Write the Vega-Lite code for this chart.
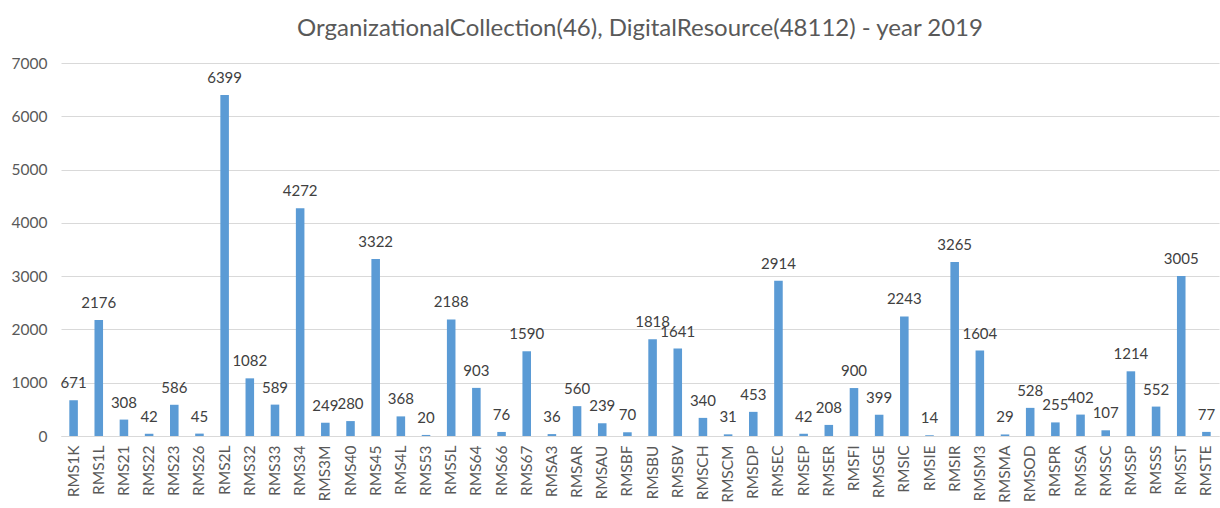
{
  "$schema": "https://vega.github.io/schema/vega-lite/v6.json",
  "width": 1158,
  "height": 373,
  "autosize": "none",
  "padding": {"left": 61, "top": 63, "right": 1, "bottom": 72},
  "background": "white",
  "title": {
    "text": "OrganizationalCollection(46), DigitalResource(48112) - year 2019",
    "font": "Lato",
    "fontSize": 24,
    "fontWeight": "normal",
    "color": "#595959",
    "anchor": "middle",
    "offset": 15
  },
  "config": {
    "view": {"stroke": null},
    "axis": {"labelFont": "Lato", "labelColor": "#595959", "labelFontSize": 15.5}
  },
  "data": {
    "values": [
      {"code": "RMS1K", "count": 671},
      {"code": "RMS1L", "count": 2176},
      {"code": "RMS21", "count": 308},
      {"code": "RMS22", "count": 42},
      {"code": "RMS23", "count": 586},
      {"code": "RMS26", "count": 45},
      {"code": "RMS2L", "count": 6399},
      {"code": "RMS32", "count": 1082},
      {"code": "RMS33", "count": 589},
      {"code": "RMS34", "count": 4272},
      {"code": "RMS3M", "count": 249},
      {"code": "RMS40", "count": 280},
      {"code": "RMS45", "count": 3322},
      {"code": "RMS4L", "count": 368},
      {"code": "RMS53", "count": 20},
      {"code": "RMS5L", "count": 2188},
      {"code": "RMS64", "count": 903},
      {"code": "RMS66", "count": 76},
      {"code": "RMS67", "count": 1590},
      {"code": "RMSA3", "count": 36},
      {"code": "RMSAR", "count": 560},
      {"code": "RMSAU", "count": 239},
      {"code": "RMSBF", "count": 70},
      {"code": "RMSBU", "count": 1818},
      {"code": "RMSBV", "count": 1641},
      {"code": "RMSCH", "count": 340},
      {"code": "RMSCM", "count": 31},
      {"code": "RMSDP", "count": 453},
      {"code": "RMSEC", "count": 2914},
      {"code": "RMSEP", "count": 42},
      {"code": "RMSER", "count": 208},
      {"code": "RMSFI", "count": 900},
      {"code": "RMSGE", "count": 399},
      {"code": "RMSIC", "count": 2243},
      {"code": "RMSIE", "count": 14},
      {"code": "RMSIR", "count": 3265},
      {"code": "RMSM3", "count": 1604},
      {"code": "RMSMA", "count": 29},
      {"code": "RMSOD", "count": 528},
      {"code": "RMSPR", "count": 255},
      {"code": "RMSSA", "count": 402},
      {"code": "RMSSC", "count": 107},
      {"code": "RMSSP", "count": 1214},
      {"code": "RMSSS", "count": 552},
      {"code": "RMSST", "count": 3005},
      {"code": "RMSTE", "count": 77}
    ]
  },
  "encoding": {
    "x": {
      "field": "code",
      "type": "nominal",
      "sort": null,
      "scale": {"paddingInner": 0.66, "paddingOuter": 0.33},
      "axis": {
        "title": null,
        "labelAngle": -90,
        "labelPadding": 9,
        "ticks": false,
        "domain": true,
        "domainColor": "#D9D9D9",
        "labelOverlap": false
      }
    },
    "y": {
      "field": "count",
      "type": "quantitative",
      "scale": {"domain": [0, 7000], "nice": false},
      "axis": {
        "title": null,
        "format": "d",
        "values": [0, 1000, 2000, 3000, 4000, 5000, 6000, 7000],
        "grid": true,
        "gridColor": "#D9D9D9",
        "domain": false,
        "ticks": false,
        "labelPadding": 14
      }
    }
  },
  "layer": [
    {"mark": {"type": "bar", "color": "#5B9BD5"}},
    {
      "mark": {
        "type": "text",
        "dy": -17,
        "font": "Lato",
        "fontSize": 15,
        "color": "#404040"
      },
      "encoding": {"text": {"field": "count", "type": "quantitative"}}
    }
  ]
}
